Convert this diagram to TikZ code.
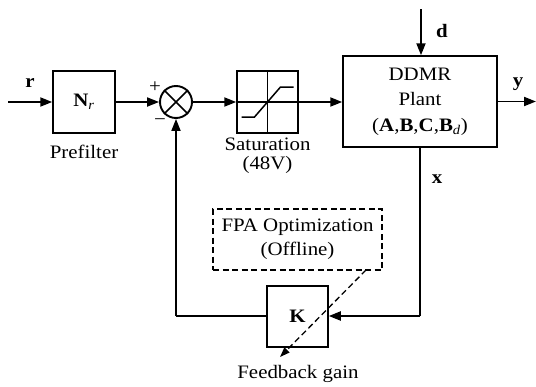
\documentclass[tikz,border=0pt]{standalone}
\usepackage{fontspec}
\setmainfont[FakeStretch=1.1]{Liberation Serif}
\usetikzlibrary{arrows.meta,calc}
\begin{document}
\begin{tikzpicture}[x=1pt,y=-1pt,
  blk/.style={draw,line width=1.5pt,inner sep=0pt,font=\fontsize{19}{25.5}\selectfont,align=center},
  conn/.style={line width=1.9pt,-{Triangle[length=12pt,width=9pt]}},
  wire/.style={line width=1.9pt},
  lbl/.style={font=\fontsize{19}{20}\selectfont,inner sep=0pt,align=center},
  sgn/.style={font=\fontsize{19}{20}\selectfont,inner sep=0pt},
  dashedarrow/.style={line width=1.3pt,dash pattern=on 6pt off 3.5pt,-{Triangle[length=10pt,width=7pt]}}]
\useasboundingbox (0,0) rectangle (536,386);
% blocks
\node[blk,minimum width=62pt,minimum height=62pt] (pre) at (84,102) {\textbf{N}\textsubscript{\textit{r}}};
\node[draw,circle,line width=1.9pt,minimum size=32pt,inner sep=0pt] (sum) at (176,102) {};
\draw[line width=1.7pt] (sum.north west) -- (sum.south east) (sum.north east) -- (sum.south west);
\node[blk,minimum width=61pt,minimum height=62pt] (sat) at (267.5,102) {};
\draw[line width=1.1pt] (sat.west) -- (sat.east);
\draw[line width=1.1pt] (sat.north) -- (sat.south);
\draw[line width=1.5pt] ($(sat.center)+(-26,15)$) -- ($(sat.center)+(-13,15)$) -- ($(sat.center)+(13,-15)$) -- ($(sat.center)+(26,-15)$);
\node[blk,minimum width=154pt,minimum height=91pt] (plant) at (420,101.5) {DDMR\\Plant\\(\textbf{A},\textbf{B},\textbf{C},\textbf{B}\textsubscript{\textit{d}})};
\node[blk,minimum width=61pt,minimum height=61pt] (K) at (297.5,316.5) {\textbf{K}};
\node[draw,dash pattern=on 6pt off 3.5pt,line width=1.3pt,minimum width=169pt,minimum height=61pt,inner sep=0pt,font=\fontsize{19}{24}\selectfont,align=center] (fpa) at (297.5,239.5) {FPA Optimization\\(Offline)};
% labels
\node[lbl] (rl) at (30,83) {\textbf{r}};
\node[lbl] (prel) at (84,152) {Prefilter};
\node[lbl,font=\fontsize{19}{19}\selectfont] (satl) at (267.5,156) {Saturation\\(48V)};
\node[lbl] (dl) at (442,31) {\textbf{d}};
\node[lbl] (yl) at (518,84) {\textbf{y}};
\node[lbl] (xl) at (437,179) {\textbf{x}};
\node[lbl] (gl) at (298,374) {Feedback gain};
\node[sgn] (plus) at (155,87) {+};
\node[sgn] (minus) at (160,122) {−};
% coordinates
\coordinate (rin) at (8,102);
\coordinate (din) at (421,9);
\coordinate (yout) at (536,101.5);
\coordinate (xdown) at (420,316);
\coordinate (fbl) at (176,316);
\coordinate (dstart) at (366,270);
\coordinate (dend) at (280,357);
% connectors
\draw[conn] (rin) -- (pre.west);
\draw[conn] (pre.east) -- (sum.west);
\draw[conn] (sum.east) -- (sat.west);
\draw[conn] (sat.east) -- (plant.west |- sat.east);
\draw[conn] (din) -- (plant.north -| din);
\draw[conn] (plant.east) -- (yout);
\draw[wire] (plant.south -| xdown) -- (xdown);
\draw[conn] (xdown) -- (K.east |- xdown);
\draw[wire] (K.west |- fbl) -- (fbl);
\draw[conn] (fbl) -- (sum.south);
\draw[dashedarrow] (dstart) -- (dend);
\end{tikzpicture}
\end{document}
